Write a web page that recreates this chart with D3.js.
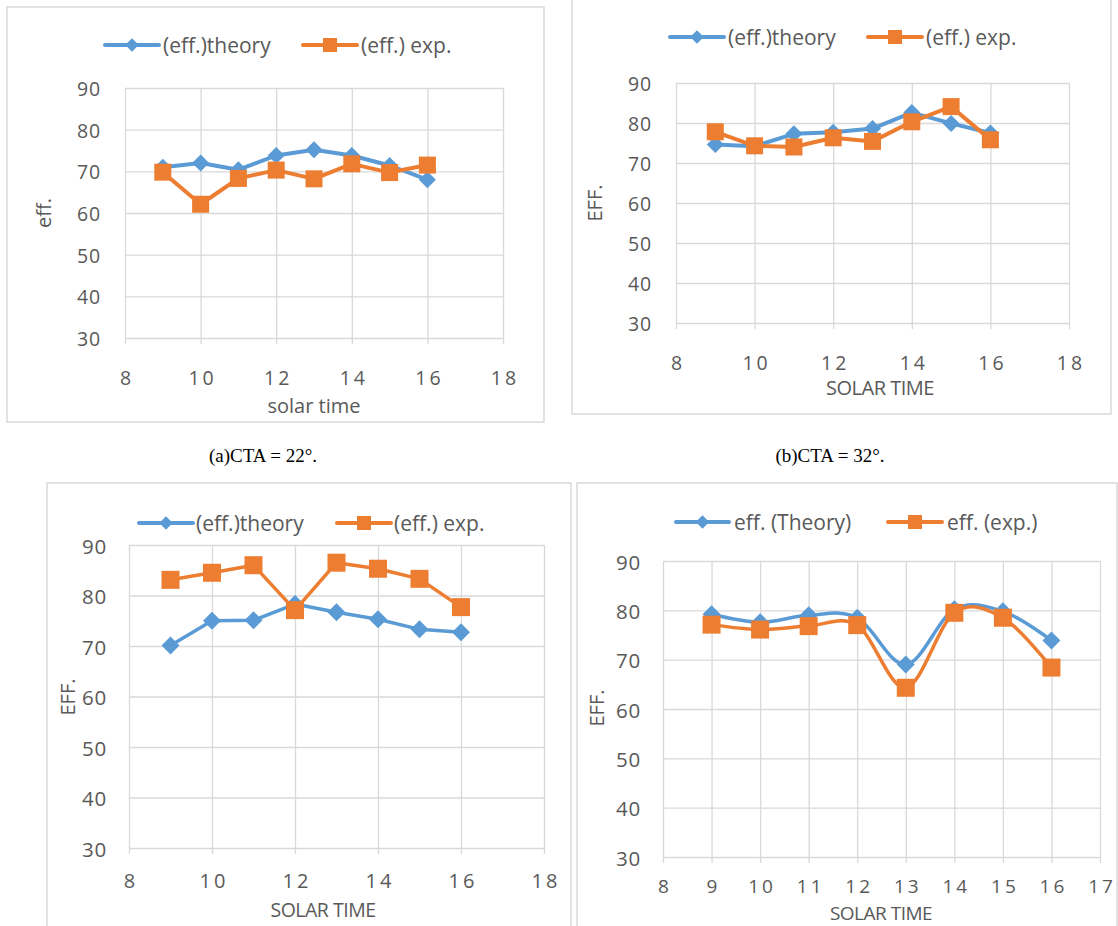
<!DOCTYPE html>
<html><head><meta charset="utf-8">
<script src="https://cdn.jsdelivr.net/npm/d3@7"></script>
<style>body{margin:0;background:#fff}svg{display:block}</style>
</head><body>
<svg id="chart" width="1118" height="926"></svg>
<script>
// ---------- data ----------
const solarTime = [9, 10, 11, 12, 13, 14, 15, 16];
const theoryA = [71.0, 72.0, 70.4, 73.8, 75.2, 73.8, 71.4, 68.0];
const expA    = [69.8, 62.1, 68.3, 70.3, 68.2, 71.8, 69.7, 71.5];
const theoryB = [74.6, 74.2, 77.3, 77.7, 78.6, 82.6, 79.9, 77.5];
const expB    = [77.8, 74.3, 74.0, 76.3, 75.4, 80.3, 84.1, 75.8];
const theoryC = [70.1, 75.0, 75.1, 78.3, 76.7, 75.3, 73.3, 72.7];
const expC    = [83.1, 84.5, 86.0, 77.1, 86.5, 85.3, 83.3, 77.7];
const theoryD = [79.2, 77.6, 79.0, 78.5, 69.0, 80.2, 79.8, 73.9];
const expD    = [77.1, 76.1, 76.8, 77.0, 64.3, 79.5, 78.5, 68.4];
const yTicks = [30, 40, 50, 60, 70, 80, 90];
const xTicksEven = [8, 10, 12, 14, 16, 18];
const xTicksUnit = [8, 9, 10, 11, 12, 13, 14, 15, 16, 17];
const legendABC = ["(eff.)theory", "(eff.) exp."];
const legendD = ["eff. (Theory)", "eff. (exp.)"];
const yTitleLower = "eff.", yTitleUpper = "EFF.";
const xTitleLower = "solar time", xTitleUpper = "SOLAR TIME";
const captions = ["(a)CTA = 22°.", "(b)CTA = 32°."];

// ---------- layout / styles ----------
const BLUE = "#5B9BD5", ORANGE = "#ED7D31", GRID = "#D9D9D9", TXT = "#595959";
const FONT = "'Open Sans', 'Noto Sans', sans-serif";

const panels = [
  { box:[7,7,544,422], plot:{l:125,r:503,t:88,b:338}, xDom:[8,18], xTicks:xTicksEven,
    theory:theoryA, exp:expA, legend:legendABC, yTitle:yTitleLower, xTitle:xTitleLower,
    fs:19.5, xfs:19.5, legFs:21, titleFs:20, yPad:24, xLabOff:39,
    leg:{y:45, l1:[105,159], t1:163, l2:[303,357], t2:361},
    yT:[43,213], xT:[314,405], lw:4, sq:17, dia:17, curve:d3.curveLinear },
  { box:[572,-2,1111,414], plot:{l:676,r:1069,t:83,b:323}, xDom:[8,18], xTicks:xTicksEven,
    theory:theoryB, exp:expB, legend:legendABC, yTitle:yTitleUpper, xTitle:xTitleUpper,
    fs:19.5, xfs:19.5, legFs:21, titleFs:20, yPad:24, xLabOff:39,
    leg:{y:37, l1:[670,724], t1:728, l2:[868,922], t2:926},
    yT:[594,203], xT:[880,387], lw:4, sq:17, dia:17, curve:d3.curveLinear },
  { box:[47,483,571,932], plot:{l:129,r:544,t:545,b:848}, xDom:[8,18], xTicks:xTicksEven,
    theory:theoryC, exp:expC, legend:legendABC, yTitle:yTitleUpper, xTitle:xTitleUpper,
    fs:20.5, xfs:20, legFs:21, titleFs:19.5, yPad:22, xLabOff:32,
    leg:{y:523, l1:[139,193], t1:196, l2:[337,391], t2:394},
    yT:[67,697], xT:[323,909], lw:3.5, sq:18, dia:18, curve:d3.curveLinear },
  { box:[577,483,1117,932], plot:{l:663,r:1100,t:561,b:857}, xDom:[8,17], xTicks:xTicksUnit,
    theory:theoryD, exp:expD, legend:legendD, yTitle:yTitleUpper, xTitle:xTitleUpper,
    fs:20.5, xfs:19, legFs:21, titleFs:19, yPad:22, xLabOff:29,
    leg:{y:522, l1:[676,729], t1:734, l2:[888,942], t2:947},
    yT:[596,708], xT:[881,913], lw:3.5, sq:18, dia:18, curve:d3.curveCardinal.tension(0) }
];

const svg = d3.select("#chart");
svg.append("rect").attr("width",1118).attr("height",926).attr("fill","#fff");

function marker(g, type, x, y, size, color) {
  if (type === "square") {
    g.append("path").attr("d", d3.symbol().type(d3.symbolSquare).size(size*size)())
      .attr("transform", `translate(${x},${y})`).attr("fill", color);
  } else {
    g.append("path").attr("d", d3.symbol().type(d3.symbolSquare).size(size*size/2)())
      .attr("transform", `translate(${x},${y}) rotate(45)`).attr("fill", color);
  }
}

panels.forEach(p => {
  const g = svg.append("g");
  const [bx0, by0, bx1, by1] = p.box;
  g.append("rect").attr("x", bx0).attr("y", by0).attr("width", bx1-bx0).attr("height", by1-by0)
    .attr("fill", "#fff").attr("stroke", GRID).attr("stroke-width", 1.5);

  const x = d3.scaleLinear().domain(p.xDom).range([p.plot.l, p.plot.r]);
  const y = d3.scaleLinear().domain([30, 90]).range([p.plot.b, p.plot.t]);
  const ext = 6;

  // horizontal gridlines + y labels
  const ya = g.append("g").attr("transform", `translate(${p.plot.l},0)`)
    .call(d3.axisLeft(y).tickValues(yTicks).tickSize(-(p.plot.r - p.plot.l)).tickPadding(p.yPad));
  ya.select(".domain").remove();
  ya.selectAll("line").attr("stroke", GRID).attr("stroke-width", 1.3);
  ya.selectAll("text").attr("fill", TXT).attr("font-family", FONT).attr("font-size", p.fs)
    .attr("dy", null).attr("dominant-baseline", "central").attr("letter-spacing", 0.8);

  // vertical gridlines + x labels
  const xa = g.append("g").attr("transform", `translate(0,${p.plot.b + ext})`)
    .call(d3.axisBottom(x).tickValues(p.xTicks).tickSize(-(p.plot.b + ext - p.plot.t)));
  xa.select(".domain").remove();
  xa.selectAll("line").attr("stroke", GRID).attr("stroke-width", 1.3);
  xa.selectAll("text").attr("fill", TXT).attr("font-family", FONT).attr("font-size", p.xfs)
    .attr("y", p.xLabOff - ext).attr("dy", null).attr("dominant-baseline", "central")
    .attr("letter-spacing", 3).attr("dx", 1.5);

  // series
  const pts = s => solarTime.map((t, i) => [x(t), y(s[i])]);
  const line = d3.line().curve(p.curve);
  [[p.theory, BLUE, "diamond", p.dia], [p.exp, ORANGE, "square", p.sq]].forEach(([s, c, m, sz]) => {
    g.append("path").attr("d", line(pts(s))).attr("fill", "none").attr("stroke", c)
      .attr("stroke-width", p.lw).attr("stroke-linejoin", "round").attr("stroke-linecap", "round");
    pts(s).forEach(([px, py]) => marker(g, m, px, py, sz, c));
  });

  // legend
  const L = p.leg;
  [[L.l1, L.t1, BLUE, "diamond", 13.5, p.legend[0]], [L.l2, L.t2, ORANGE, "square", 14, p.legend[1]]]
    .forEach(([seg, tx, c, m, sz, label]) => {
      g.append("line").attr("x1", seg[0]).attr("x2", seg[1]).attr("y1", L.y).attr("y2", L.y)
        .attr("stroke", c).attr("stroke-width", 4).attr("stroke-linecap", "round");
      marker(g, m, (seg[0] + seg[1]) / 2, L.y, sz, c);
      g.append("text").attr("x", tx).attr("y", L.y).attr("dominant-baseline", "central")
        .attr("font-family", FONT).attr("font-size", p.legFs).attr("fill", TXT).text(label);
    });

  // axis titles
  g.append("text").attr("transform", `translate(${p.yT[0]},${p.yT[1]}) rotate(-90)`)
    .attr("text-anchor", "middle").attr("dominant-baseline", "central")
    .attr("font-family", FONT).attr("font-size", 20).attr("fill", TXT).text(p.yTitle);
  g.append("text").attr("x", p.xT[0]).attr("y", p.xT[1])
    .attr("text-anchor", "middle").attr("dominant-baseline", "central")
    .attr("font-family", FONT).attr("font-size", p.titleFs).attr("fill", TXT)
    .attr("letter-spacing", p.xTitle === xTitleUpper ? -0.5 : 0).text(p.xTitle);
});

// captions
const capPos = [[263, 455], [830, 455]];
captions.forEach((c, i) => {
  svg.append("text").attr("x", capPos[i][0]).attr("y", capPos[i][1])
    .attr("text-anchor", "middle").attr("dominant-baseline", "central")
    .attr("font-family", "'Liberation Serif', 'Times New Roman', serif")
    .attr("font-size", 19).attr("fill", "#000").text(c);
});
</script>
</body></html>
